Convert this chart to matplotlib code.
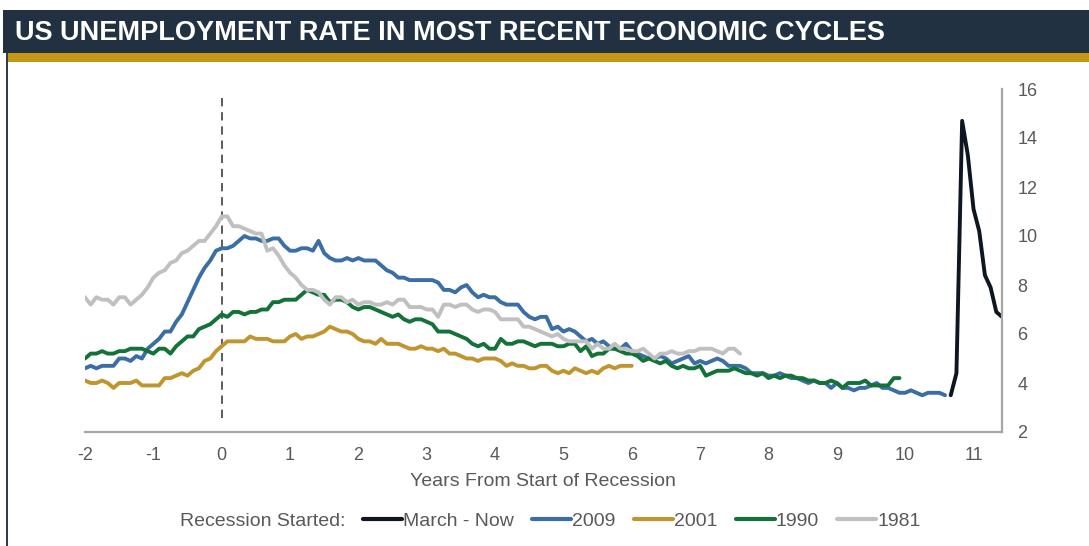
import numpy as np
import matplotlib.pyplot as plt
from matplotlib.patches import Rectangle
from matplotlib.lines import Line2D

plt.rcParams['font.family'] = ['Liberation Sans', 'DejaVu Sans']
plt.rcParams['axes.unicode_minus'] = False

# monthly unemployment rate (%), aligned on months from x = 0
rate_now = [3.5, 4.4, 14.7, 13.3, 11.1, 10.2, 8.4, 7.9, 6.9, 6.7]
start_now = 128

rate_2009 = [4.6, 4.7, 4.6, 4.7, 4.7, 4.7, 5.0,
             5.0, 4.9, 5.1, 5.0, 5.4, 5.6, 5.8, 6.1, 6.1, 6.5, 6.8, 7.3,
             7.8, 8.3, 8.7, 9.0, 9.4, 9.5, 9.5, 9.6, 9.8, 10.0, 9.9, 9.9,
             9.8, 9.8, 9.9, 9.9, 9.6, 9.4, 9.4, 9.5, 9.5, 9.4, 9.8, 9.3,
             9.1, 9.0, 9.0, 9.1, 9.0, 9.1, 9.0, 9.0, 9.0, 8.8, 8.6, 8.5,
             8.3, 8.3, 8.2, 8.2, 8.2, 8.2, 8.2, 8.1, 7.8, 7.8, 7.7, 7.9,
             8.0, 7.7, 7.5, 7.6, 7.5, 7.5, 7.3, 7.2, 7.2, 7.2, 6.9, 6.7,
             6.6, 6.7, 6.7, 6.2, 6.3, 6.1, 6.2, 6.1, 5.9, 5.7, 5.8, 5.6,
             5.7, 5.5, 5.4, 5.4, 5.6, 5.3, 5.2, 5.1, 5.0, 5.0, 5.1, 5.0,
             4.8, 4.9, 5.0, 5.1, 4.8, 4.9, 4.8, 4.9, 5.0, 4.9, 4.7, 4.7,
             4.7, 4.6, 4.4, 4.4, 4.4, 4.3, 4.3, 4.4, 4.3, 4.2, 4.2, 4.1,
             4.0, 4.1, 4.0, 4.0, 3.8, 4.0, 3.8, 3.8, 3.7, 3.8, 3.8, 3.9,
             4.0, 3.8, 3.8, 3.7, 3.6, 3.6, 3.7, 3.6, 3.5, 3.6, 3.6, 3.6,
             3.5]
start_2009 = -24

rate_2001 = [4.1, 4.0,
             4.0, 4.1, 4.0, 3.8, 4.0, 4.0, 4.0, 4.1, 3.9, 3.9, 3.9, 3.9,
             4.2, 4.2, 4.3, 4.4, 4.3, 4.5, 4.6, 4.9, 5.0, 5.3, 5.5, 5.7,
             5.7, 5.7, 5.7, 5.9, 5.8, 5.8, 5.8, 5.7, 5.7, 5.7, 5.9, 6.0,
             5.8, 5.9, 5.9, 6.0, 6.1, 6.3, 6.2, 6.1, 6.1, 6.0, 5.8, 5.7,
             5.7, 5.6, 5.8, 5.6, 5.6, 5.6, 5.5, 5.4, 5.4, 5.5, 5.4, 5.4,
             5.3, 5.4, 5.2, 5.2, 5.1, 5.0, 5.0, 4.9, 5.0, 5.0, 5.0, 4.9,
             4.7, 4.8, 4.7, 4.7, 4.6, 4.6, 4.7, 4.7, 4.5, 4.4, 4.5, 4.4,
             4.6, 4.5, 4.4, 4.5, 4.4, 4.6, 4.7, 4.6, 4.7, 4.7, 4.7]
start_2001 = -24

rate_1990 = [5.0, 5.2, 5.2, 5.3, 5.2, 5.2, 5.3, 5.3, 5.4, 5.4,
             5.4, 5.3, 5.2, 5.4, 5.4, 5.2, 5.5, 5.7, 5.9, 5.9, 6.2, 6.3,
             6.4, 6.6, 6.8, 6.7, 6.9, 6.9, 6.8, 6.9, 6.9, 7.0, 7.0, 7.3,
             7.3, 7.4, 7.4, 7.4, 7.6, 7.8, 7.7, 7.6, 7.6, 7.3, 7.4, 7.4,
             7.3, 7.1, 7.0, 7.1, 7.1, 7.0, 6.9, 6.8, 6.7, 6.8, 6.6, 6.5,
             6.6, 6.6, 6.5, 6.4, 6.1, 6.1, 6.1, 6.0, 5.9, 5.8, 5.6, 5.5,
             5.6, 5.4, 5.4, 5.8, 5.6, 5.6, 5.7, 5.7, 5.6, 5.5, 5.6, 5.6,
             5.6, 5.5, 5.5, 5.6, 5.6, 5.3, 5.5, 5.1, 5.2, 5.2, 5.4, 5.4,
             5.3, 5.2, 5.2, 5.1, 4.9, 5.0, 4.9, 4.8, 4.9, 4.7, 4.6, 4.7,
             4.6, 4.6, 4.7, 4.3, 4.4, 4.5, 4.5, 4.5, 4.6, 4.5, 4.4, 4.4,
             4.3, 4.4, 4.2, 4.3, 4.2, 4.3, 4.3, 4.2, 4.2, 4.1, 4.1, 4.0,
             4.0, 4.1, 4.0, 3.8, 4.0, 4.0, 4.0, 4.1, 3.9, 3.9, 3.9, 3.9,
             4.2, 4.2]
start_1990 = -24

rate_1981 = [7.5, 7.2,
             7.5, 7.4, 7.4, 7.2, 7.5, 7.5, 7.2, 7.4, 7.6, 7.9, 8.3, 8.5,
             8.6, 8.9, 9.0, 9.3, 9.4, 9.6, 9.8, 9.8, 10.1, 10.4, 10.8, 10.8,
             10.4, 10.4, 10.3, 10.2, 10.1, 10.1, 9.4, 9.5, 9.2, 8.8, 8.5, 8.3,
             8.0, 7.8, 7.8, 7.7, 7.4, 7.2, 7.5, 7.5, 7.3, 7.4, 7.2, 7.3,
             7.3, 7.2, 7.2, 7.3, 7.2, 7.4, 7.4, 7.1, 7.1, 7.1, 7.0, 7.0,
             6.7, 7.2, 7.2, 7.1, 7.2, 7.2, 7.0, 6.9, 7.0, 7.0, 6.9, 6.6,
             6.6, 6.6, 6.6, 6.3, 6.3, 6.2, 6.1, 6.0, 5.9, 6.0, 5.8, 5.7,
             5.7, 5.7, 5.7, 5.4, 5.6, 5.4, 5.4, 5.6, 5.4, 5.4, 5.3, 5.3,
             5.4, 5.2, 5.0, 5.2, 5.2, 5.3, 5.2, 5.2, 5.3, 5.3, 5.4, 5.4,
             5.4, 5.3, 5.2, 5.4, 5.4, 5.2]
start_1981 = -24

labels = ["March - Now", "2009", "2001", "1990", "1981"]
colors = ["#0e1621", "#3a6ea5", "#c0952e", "#137238", "#c0c0c0"]
series = [(start_now, rate_now), (start_2009, rate_2009), (start_2001, rate_2001),
          (start_1990, rate_1990), (start_1981, rate_1981)]

W, H = 1089, 546
fig = plt.figure(figsize=(W / 100, H / 100), dpi=100)

# title banner
fig.patches.append(Rectangle((3 / W, 1 - 53 / H), 1, 43 / H, transform=fig.transFigure,
                             facecolor="#213142", edgecolor="none"))
fig.patches.append(Rectangle((8 / W, 1 - 62 / H), 1, 9 / H, transform=fig.transFigure,
                             facecolor="#c49616", edgecolor="none"))
fig.patches.append(Rectangle((6 / W, 0), 2 / W, 1 - 53 / H, transform=fig.transFigure,
                             facecolor="#2c3e50", edgecolor="none"))
fig.text(15 / W, 1 - 33 / H, "US UNEMPLOYMENT RATE IN MOST RECENT ECONOMIC CYCLES",
         color="white", fontsize=19.5, fontweight="bold", va="center", ha="left")

ax = fig.add_axes([85 / W, 1 - 432 / H, (1002 - 85) / W, (432 - 89) / H])

for i, (start, vals) in enumerate(series):
    x = (start + np.arange(len(vals))) / 12
    ax.plot(x, vals, color=colors[i], lw=2.8, solid_joinstyle="round",
            solid_capstyle="round", zorder=2 + i)

ax.axvline(0, ymin=0.04, ymax=0.975, color="#404040", lw=1.2, ls=(0, (5, 3.5)), zorder=1)

ax.set_xlim(-2, 137 / 12)
ax.set_ylim(2, 16)
ax.set_xticks(range(-2, 12))
ax.set_yticks(range(2, 17, 2))
ax.yaxis.tick_right()
ax.tick_params(length=0, labelsize=13, labelcolor="#595959")
ax.tick_params(axis="x", pad=11)
ax.tick_params(axis="y", pad=11)
for s in ["left", "top"]:
    ax.spines[s].set_visible(False)
for s in ["right", "bottom"]:
    ax.spines[s].set_color("#a6a6a6")
    ax.spines[s].set_linewidth(1.6)

fig.text(543 / W, 1 - 482 / H, "Years From Start of Recession", ha="center", va="center",
         fontsize=14, color="#595959")

fig.text(180 / W, 1 - 521 / H, "Recession Started:", ha="left", va="center",
         fontsize=14, color="#595959")
handles = [Line2D([], [], color=c, lw=3, solid_capstyle="round") for c in colors]
leg = fig.legend(handles, labels, loc="center left", bbox_to_anchor=(363 / W, 1 - 521 / H),
                 ncol=5, frameon=False, fontsize=14, handlelength=2.0, handletextpad=0.05,
                 columnspacing=0.95, borderpad=0, borderaxespad=0)
for t in leg.get_texts():
    t.set_color("#595959")

fig.savefig("out.png", dpi=100, facecolor="white")
